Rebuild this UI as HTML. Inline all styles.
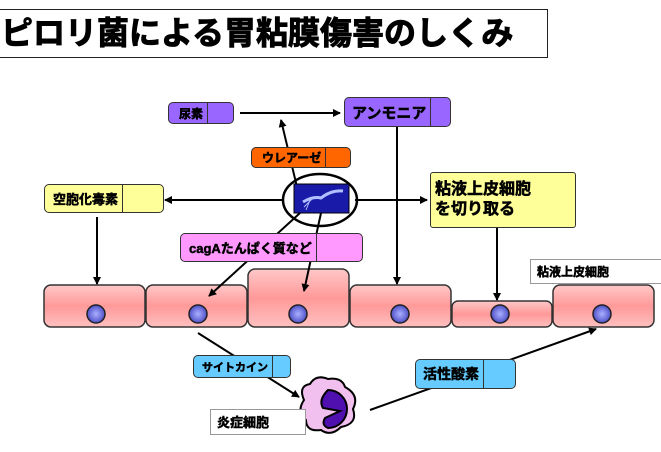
<!DOCTYPE html>
<html><head><meta charset="utf-8"><style>
body{margin:0;width:661px;height:452px;background:#fff;overflow:hidden;position:relative;font-family:"Liberation Sans","Noto Sans CJK JP",sans-serif;}
.b{position:absolute;box-sizing:border-box;border:1.5px solid #333;border-radius:5px;font-weight:bold;color:#000;display:flex;align-items:center;-webkit-text-stroke:0.5px #000;}
.b span{display:block;border-right:1.5px solid #333;height:100%;display:flex;align-items:center;padding:0 4px;}
.w{-webkit-text-stroke:0.5px #000;}
svg{position:absolute;left:0;top:0}
</style></head><body>
<div style="position:absolute;left:-2px;top:9px;width:550px;height:49px;border:1.5px solid #222;box-sizing:border-box;font-size:32px;line-height:46px;padding-left:2px;white-space:nowrap;font-weight:bold;-webkit-text-stroke:1px #000">ピロリ菌による胃粘膜傷害のしくみ</div>
<svg width="661" height="452">
<defs><marker id="a" markerWidth="8" markerHeight="8" refX="7" refY="4" orient="auto" markerUnits="userSpaceOnUse"><path d="M0,0 L8,4 L0,8z" fill="#000"/></marker>
<radialGradient id="n"><stop offset="0" stop-color="#aab0ff"/><stop offset="1" stop-color="#5050c8"/></radialGradient>
<linearGradient id="c" x1="0" y1="0" x2="0" y2="1"><stop offset="0" stop-color="#ffc8c8"/><stop offset="0.5" stop-color="#f99"/><stop offset="1" stop-color="#ffc0c0"/></linearGradient></defs>
<g fill="url(#c)" stroke="#333" stroke-width="1.5">
<rect x="44" y="285" width="101" height="42" rx="7"/><rect x="146" y="285" width="101" height="42" rx="7"/>
<rect x="248" y="269" width="101" height="58" rx="7"/><rect x="350" y="285" width="101" height="42" rx="7"/>
<rect x="452" y="301" width="100" height="26" rx="6"/><rect x="553" y="285" width="101" height="42" rx="7"/></g>
<g fill="url(#n)" stroke="#222" stroke-width="1.5">
<circle cx="96" cy="314" r="9"/><circle cx="198" cy="314" r="9"/><circle cx="298" cy="314" r="9"/><circle cx="400" cy="314" r="9"/><circle cx="500" cy="314" r="9"/><circle cx="602" cy="314" r="9"/></g>
<g stroke="#000" stroke-width="2" fill="none">
<line x1="240" y1="113" x2="340" y2="113" marker-end="url(#a)"/>
<line x1="297" y1="187" x2="281" y2="120" marker-end="url(#a)"/>
<line x1="283" y1="200" x2="165" y2="200" marker-end="url(#a)"/>
<line x1="355" y1="200" x2="427" y2="200" marker-end="url(#a)"/>
<line x1="397" y1="127" x2="397" y2="284" marker-end="url(#a)"/>
<line x1="97" y1="217" x2="97" y2="284" marker-end="url(#a)"/>
<line x1="497" y1="228" x2="497" y2="300" marker-end="url(#a)"/>
<line x1="300" y1="213" x2="209" y2="296" marker-end="url(#a)"/>
<line x1="321" y1="213" x2="304" y2="291" marker-end="url(#a)"/>
<line x1="198" y1="333" x2="299" y2="397" marker-end="url(#a)"/>
<line x1="370" y1="410" x2="596" y2="329" marker-end="url(#a)"/>
<ellipse cx="320" cy="200" rx="37" ry="26" stroke-width="2.5"/>
</g>
<rect x="294" y="184" width="55" height="29" fill="#1a1aa8" stroke="#000"/>
<path d="M303,202 q10,-6 18,-4 q10,-8 22,-7" stroke="#b0c0ff" stroke-width="3" fill="none"/>
<path d="M312,199 l-8,8 M310,200 l-4,10" stroke="#b0c0ff" stroke-width="1" fill="none"/>
<path d="M304,400 q-6,-14 6,-16 q6,-10 18,-5 q14,-2 17,8 q15,8 8,22 q5,15 -12,18 q-10,10 -20,3 q-15,2 -15,-10 q-10,-8 -2,-20z" fill="#f2c0ee" stroke="#000" stroke-width="2"/>
<path d="M328,390 a19,19 0 1 1 0,38 q-7,-3 -3,-10 l15,-7 l-17,-3 q-5,-8 5,-18z" fill="#5010b0" stroke="#000" stroke-width="2"/>
</svg>
<div class="b" style="left:168px;top:102px;width:66px;height:22px;background:#9966ff;font-size:12px;padding-left:6px"><span>尿素</span></div>
<div class="b" style="left:344px;top:97px;width:107px;height:30px;background:#9966ff;font-size:15px;padding-left:3px"><span>アンモニア</span></div>
<div class="b" style="left:251px;top:147px;width:100px;height:21px;background:#ff6600;font-size:12px;padding-left:6px"><span>ウレアーゼ</span></div>
<div class="b" style="left:44px;top:184px;width:120px;height:29px;background:#ffff99;font-size:13px;padding-left:4px"><span>空胞化毒素</span></div>
<div class="b" style="left:430px;top:172px;width:146px;height:56px;background:#ffff99;font-size:16px;line-height:20px;padding-left:4px;border-radius:3px"><div>粘液上皮細胞<br>を切り取る</div></div>
<div class="b" style="left:180px;top:233px;width:183px;height:29px;background:#ff99ff;font-size:13px;padding-left:4px"><span>cagAたんぱく質など</span></div>
<div class="w" style="position:absolute;left:530px;top:259px;width:140px;height:25px;border:1px solid #999;background:#fff;font-weight:bold;font-size:12px;line-height:25px;padding-left:6px;box-sizing:border-box">粘液上皮細胞</div>
<div class="b" style="left:193px;top:355px;width:98px;height:23px;background:#66ccff;font-size:11px;padding-left:4px"><span>サイトカイン</span></div>
<div class="b" style="left:415px;top:359px;width:101px;height:30px;background:#66ccff;font-size:14px;padding-left:3px"><span>活性酸素</span></div>
<div class="w" style="position:absolute;left:210px;top:409px;width:96px;height:26px;border:1px solid #999;background:#fff;font-weight:bold;font-size:13px;line-height:26px;padding-left:6px;box-sizing:border-box">炎症細胞</div>
</body></html>
